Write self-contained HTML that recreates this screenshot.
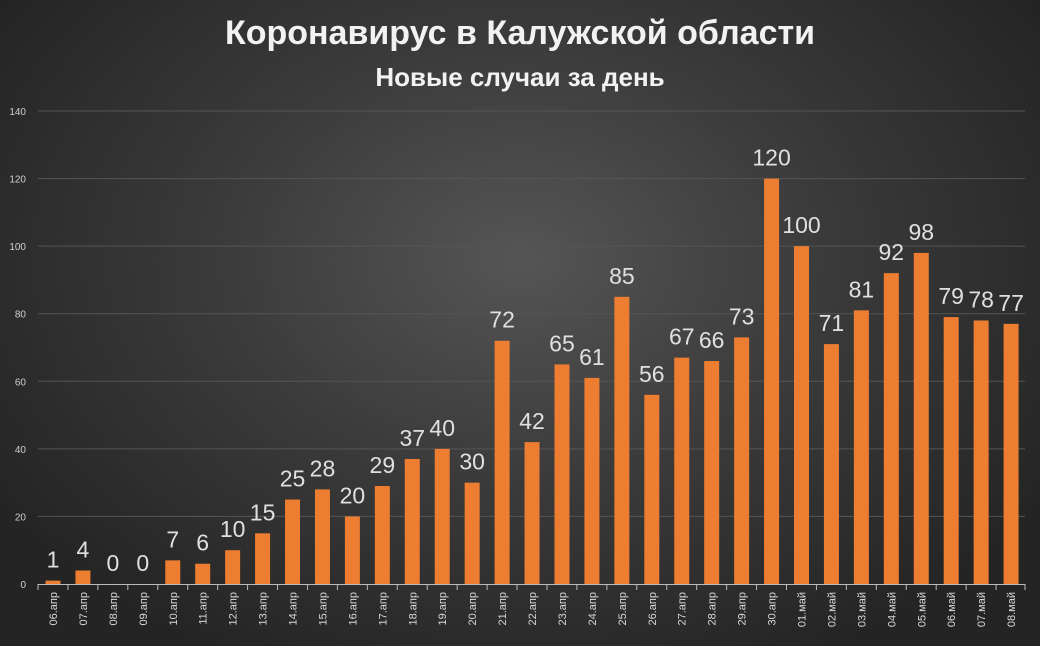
<!DOCTYPE html>
<html><head><meta charset="utf-8"><style>
html,body{margin:0;padding:0;}
body{width:1040px;height:646px;overflow:hidden;background:radial-gradient(ellipse 60% 70% at 50% 40%,#555 0%,#3a3a3a 50%,#242424 100%);}
svg{position:absolute;left:0;top:0}
</style></head><body>
<svg width="1040" height="646" xmlns="http://www.w3.org/2000/svg" font-family="Liberation Sans, DejaVu Sans, sans-serif">
<text x="520" y="44" text-anchor="middle" font-size="34" font-weight="bold" fill="#f2f2f2">Коронавирус в Калужской области</text>
<text x="520" y="86" text-anchor="middle" font-size="26" font-weight="bold" fill="#f2f2f2">Новые случаи за день</text>
<g id="g"></g>
</svg>
<script>
var vals=[1,4,0,0,7,6,10,15,25,28,20,29,37,40,30,72,42,65,61,85,56,67,66,73,120,100,71,81,92,98,79,78,77];
var labs=["06.апр","07.апр","08.апр","09.апр","10.апр","11.апр","12.апр","13.апр","14.апр","15.апр","16.апр","17.апр","18.апр","19.апр","20.апр","21.апр","22.апр","23.апр","24.апр","25.апр","26.апр","27.апр","28.апр","29.апр","30.апр","01.май","02.май","03.май","04.май","05.май","06.май","07.май","08.май"];
var y0=584,k=(584-111)/140,s='';
for(var i=0;i<=7;i++){var y=y0-i*20*k;
 if(i>0)s+='<line x1="38" x2="1025" y1="'+y+'" y2="'+y+'" stroke="#555" stroke-width="1"/>';
 s+='<text x="26" y="'+(y+4)+'" text-anchor="end" font-size="10" fill="#d0d0d0">'+(i*20)+'</text>';}
s+='<line x1="38" x2="1025" y1="584.5" y2="584.5" stroke="#bbb" stroke-width="1"/>';
for(var i=0;i<33;i++){var cx=53+i*29.94,h=vals[i]*k;
 s+='<rect x="'+(cx-7.5)+'" y="'+(y0-h)+'" width="15" height="'+h+'" fill="#ed7d31"/>';
 s+='<text x="'+cx+'" y="'+(y0-h-13)+'" text-anchor="middle" font-size="23" fill="#e0e0e0">'+vals[i]+'</text>';
 var tx=38+i*29.94;
 s+='<line x1="'+tx+'" x2="'+tx+'" y1="584" y2="590" stroke="#bbb"/>';
 s+='<text transform="translate('+(cx+4)+',592) rotate(-90)" text-anchor="end" font-size="11" fill="#d8d8d8">'+labs[i]+'</text>';}
s+='<line x1="1025" x2="1025" y1="584" y2="590" stroke="#bbb"/>';
document.getElementById('g').innerHTML=s;
</script>
</body></html>
